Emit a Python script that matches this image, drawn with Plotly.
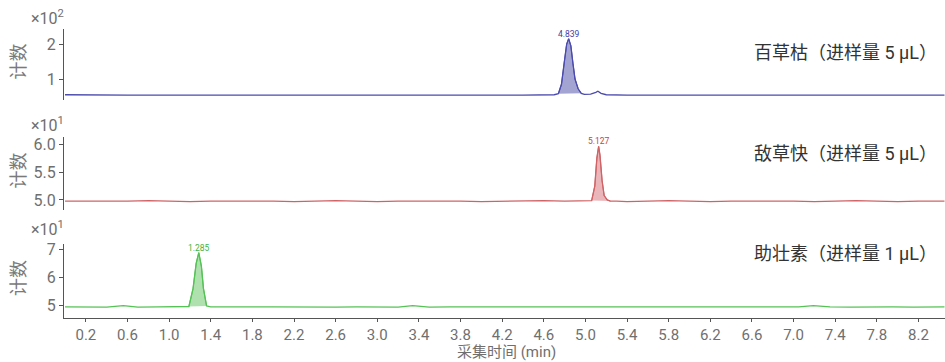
import plotly.graph_objects as go
from plotly.subplots import make_subplots

# ---------------- data ----------------
# Panel 1: 百草枯, counts x10^2
t1 = [0.00, 0.20, 0.40, 0.60, 0.80, 1.00, 1.20, 1.40, 1.60, 1.80, 2.00, 2.20, 2.40, 2.60, 2.80,
      3.00, 3.20, 3.40, 3.60, 3.80, 4.00, 4.20, 4.40, 4.60, 4.70, 4.74, 4.77, 4.80, 4.82, 4.839,
      4.86, 4.88, 4.90, 4.93, 4.96, 4.99, 5.05, 5.10, 5.12, 5.15, 5.20, 5.40, 5.60, 5.80, 6.00,
      6.20, 6.40, 6.60, 6.80, 7.00, 7.20, 7.40, 7.60, 7.80, 8.00, 8.20, 8.45]
y1 = [0.55, 0.54, 0.55, 0.54, 0.54, 0.55, 0.54, 0.54, 0.55, 0.54, 0.54, 0.55, 0.54, 0.54, 0.55,
      0.54, 0.54, 0.55, 0.54, 0.54, 0.55, 0.54, 0.54, 0.55, 0.55, 0.58, 0.85, 1.55, 2.00, 2.15,
      1.95, 1.45, 1.00, 0.72, 0.59, 0.56, 0.57, 0.62, 0.65, 0.59, 0.55, 0.54, 0.55, 0.54, 0.54,
      0.55, 0.54, 0.54, 0.55, 0.54, 0.54, 0.55, 0.54, 0.54, 0.55, 0.54, 0.54]

# Panel 2: 敌草快, counts x10^1
t2 = [0.00, 0.20, 0.40, 0.60, 0.80, 1.00, 1.20, 1.40, 1.60, 1.80, 2.00, 2.20, 2.40, 2.60, 2.80,
      3.00, 3.20, 3.40, 3.60, 3.80, 4.00, 4.20, 4.40, 4.60, 4.80, 5.00, 5.06, 5.09, 5.11, 5.127,
      5.14, 5.16, 5.18, 5.21, 5.24, 5.30, 5.40, 5.60, 5.80, 6.00, 6.20, 6.40, 6.60, 6.80, 7.00,
      7.20, 7.40, 7.60, 7.80, 8.00, 8.20, 8.45]
y2 = [4.98, 4.98, 4.97, 4.98, 4.99, 4.98, 4.97, 4.98, 4.98, 4.99, 4.98, 4.97, 4.98, 4.99, 4.98,
      4.97, 4.98, 4.98, 4.99, 4.98, 4.97, 4.98, 4.98, 4.99, 4.98, 4.98, 4.99, 5.25, 5.75, 5.96,
      5.80, 5.35, 5.08, 5.00, 4.98, 4.98, 4.97, 4.98, 4.99, 4.98, 4.97, 4.98, 4.98, 4.99, 4.98,
      4.97, 4.98, 4.99, 4.98, 4.97, 4.98, 4.98]

# Panel 3: 助壮素, counts x10^1
t3 = [0.00, 0.20, 0.40, 0.56, 0.70, 0.90, 1.10, 1.19, 1.23, 1.26, 1.285, 1.31, 1.33, 1.36,
      1.40, 1.60, 1.80, 2.00, 2.20, 2.40, 2.60, 2.80, 3.00, 3.20, 3.34, 3.50, 3.70, 3.90, 4.10,
      4.30, 4.50, 4.70, 4.90, 5.10, 5.30, 5.50, 5.70, 5.90, 6.10, 6.30, 6.50, 6.70, 6.90, 7.05,
      7.19, 7.35, 7.55, 7.75, 7.95, 8.15, 8.45]
y3 = [4.95, 4.95, 4.94, 4.99, 4.94, 4.95, 4.95, 4.96, 5.60, 6.50, 6.88, 6.40, 5.60, 4.98,
      4.95, 4.94, 4.95, 4.95, 4.94, 4.95, 4.94, 4.95, 4.95, 4.94, 4.99, 4.94, 4.95, 4.95, 4.94,
      4.95, 4.94, 4.95, 4.95, 4.94, 4.95, 4.95, 4.94, 4.95, 4.94, 4.95, 4.95, 4.94, 4.95, 4.95,
      4.99, 4.95, 4.94, 4.95, 4.95, 4.94, 4.95]

peak_rt = [4.839, 5.127, 1.285]
peak_top = [2.15, 5.96, 6.88]
peak_window = [(4.74, 4.96), (5.06, 5.24), (1.19, 1.36)]
panel_labels = ["百草枯（进样量 5 μL）", "敌草快（进样量 5 μL）", "助壮素（进样量 1 μL）"]
scale_labels = ["×10<sup>2</sup>", "×10<sup>1</sup>", "×10<sup>1</sup>"]
y_ticks = [[1, 2], [5.0, 5.5, 6.0], [5, 6, 7]]
y_ticktext = [["1", "2"], ["5.0", "5.5", "6.0"], ["5", "6", "7"]]
y_ranges = [[0.40, 2.43], [4.82, 6.13], [4.55, 7.19]]
x_ticks = [0.2, 0.6, 1.0, 1.4, 1.8, 2.2, 2.6, 3.0, 3.4, 3.8, 4.2, 4.6, 5.0, 5.4, 5.8, 6.2,
           6.6, 7.0, 7.4, 7.8, 8.2]
x_title = "采集时间 (min)"
y_title = "计数"

# ---------------- styling ----------------
line_colors = ["#4b4bad", "#cf6366", "#55c255"]
fill_colors = ["rgba(90,90,175,0.55)", "rgba(215,110,115,0.50)", "rgba(95,195,95,0.50)"]
label_colors = ["#3d3da6", "#c24448", "#3fb43f"]
FONT = "Roboto, 'Noto Sans CJK SC', sans-serif"
GRAY = "#6f6f6f"

W, H = 945, 362
ML, MR, MT, MB = 64, 0, 29, 44
PH = H - MT - MB
PW = W - ML - MR

def ppy(pix):
    return (H - MB - pix) / PH

def ppx(pix):
    return (pix - ML) / PW

domains = [[ppy(100), 1.0], [ppy(210), ppy(137)], [0.0, ppy(244)]]
tops = [29, 137, 244]
bots = [100, 210, 318]
label_y = [52, 153, 254]
scale_y = [17, 124, 229]

fig = make_subplots(rows=3, cols=1, shared_xaxes=True, vertical_spacing=0.0)

series = [(t1, y1), (t2, y2), (t3, y3)]
for i, (tt, yy) in enumerate(series):
    r = i + 1
    lo, hi = peak_window[i]
    pt = [a for a in tt if lo <= a <= hi]
    pyv = [b for a, b in zip(tt, yy) if lo <= a <= hi]
    fig.add_trace(go.Scatter(x=pt, y=pyv, mode="lines", fill="toself",
                             fillcolor=fill_colors[i], line=dict(color=line_colors[i], width=1),
                             hoverinfo="skip", showlegend=False), row=r, col=1)
    fig.add_trace(go.Scatter(x=tt, y=yy, mode="lines", line=dict(color=line_colors[i], width=1.3),
                             showlegend=False), row=r, col=1)
    fig.add_annotation(x=peak_rt[i], y=peak_top[i], xref=f"x{'' if r == 1 else r}",
                       yref=f"y{'' if r == 1 else r}", text=f"{peak_rt[i]:.3f}", showarrow=False,
                       yanchor="bottom", yshift=-2,
                       font=dict(size=8.5, color=label_colors[i], family=FONT))
    # x10^n label
    fig.add_annotation(x=0, xref="paper", xanchor="right", xshift=2, y=ppy(scale_y[i]),
                       yref="paper", yanchor="middle", text=scale_labels[i], showarrow=False,
                       font=dict(size=16, color=GRAY, family=FONT))
    # 计数 label
    fig.add_annotation(x=ppx(18), xref="paper", xanchor="center",
                       y=ppy((tops[i] + bots[i]) / 2 - 3), yref="paper", yanchor="middle",
                       text=y_title, textangle=-90, showarrow=False,
                       font=dict(size=18, color="#7a7a7a", family=FONT))
    # right-side compound label
    fig.add_annotation(x=1, xref="paper", xanchor="right", xshift=-6,
                       y=ppy(label_y[i]), yref="paper", yanchor="middle",
                       text=panel_labels[i], showarrow=False,
                       font=dict(size=18, color="#333333", family=FONT))

# x-axis title
fig.add_annotation(x=ppx(506), xref="paper", xanchor="center", y=ppy(352), yref="paper",
                   yanchor="middle", text=x_title, showarrow=False,
                   font=dict(size=15, color=GRAY, family=FONT))

for i in range(3):
    r = i + 1
    fig.update_yaxes(row=r, col=1, domain=domains[i], range=y_ranges[i], tickvals=y_ticks[i],
                     ticktext=y_ticktext[i], showline=True, linecolor="#555555", linewidth=1,
                     ticks="outside", ticklen=4, tickcolor="#555555", showgrid=False,
                     zeroline=False, tickfont=dict(size=16, color=GRAY, family=FONT))
    fig.update_xaxes(row=r, col=1, range=[-0.01, 8.455], showgrid=False, zeroline=False)

fig.update_xaxes(row=3, col=1, tickvals=x_ticks, ticktext=[f"{v:.1f}" for v in x_ticks],
                 showline=True, linecolor="#555555", linewidth=1, ticks="outside", ticklen=3,
                 tickcolor="#555555", tickfont=dict(size=15, color=GRAY, family=FONT))
fig.update_xaxes(row=1, col=1, showticklabels=False, showline=False)
fig.update_xaxes(row=2, col=1, showticklabels=False, showline=False)

fig.update_layout(width=W, height=H, margin=dict(l=ML, r=MR, t=MT, b=MB),
                  plot_bgcolor="white", paper_bgcolor="white",
                  font=dict(family=FONT, color=GRAY), showlegend=False)

fig.write_html("out.html", config={"displayModeBar": False},
               post_script="document.body.style.margin='0px';document.body.style.overflow='hidden';")
